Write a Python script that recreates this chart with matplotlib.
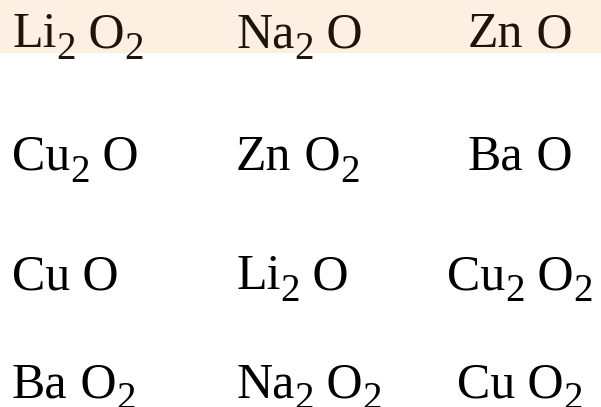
import re

import matplotlib
matplotlib.use('Agg')
import matplotlib.pyplot as plt

# formulas, by column (top to bottom); digits are subscripts
left_col = ['Li2 O2', 'Cu2 O', 'Cu O', 'Ba O2']
mid_col = ['Na2 O', 'Zn O2', 'Li2 O', 'Na2 O2']
right_col = ['Zn O', 'Ba O', 'Cu2 O2', 'Cu O2']

plt.rcParams['font.family'] = ['Liberation Serif', 'DejaVu Serif']

W, H = 601, 407
MAIN_SIZE = 36
SUB_SIZE = 28
SUB_DROP = 12

fig = plt.figure(figsize=(W / 100, H / 100), dpi=100)
ax = fig.add_axes([0, 0, 1, 1])
ax.set_xlim(0, W)
ax.set_ylim(H, 0)
ax.axis('off')
renderer = fig.canvas.get_renderer()


def split_formula(formula):
    ''' Split "Li2 O2" into [("Li", "2"), (" O", "2")]. '''
    pieces = []
    for k, group in enumerate(formula.split(' ')):
        m = re.match(r'([A-Za-z]+)(\d*)', group)
        sym = m.group(1) if k == 0 else ' ' + m.group(1)
        pieces.append((sym, m.group(2)))
    return pieces


def draw_formula(x, y, formula, ha, color):
    ''' Draw a formula with its baseline at y, return the created texts. '''
    texts = []
    cx = x
    for sym, sub in split_formula(formula):
        t = ax.text(cx, y, sym, fontsize=MAIN_SIZE, va='baseline', color=color)
        cx += t.get_window_extent(renderer).width
        texts.append(t)
        if sub:
            s = ax.text(cx, y + SUB_DROP, sub, fontsize=SUB_SIZE,
                        va='baseline', color=color)
            cx += s.get_window_extent(renderer).width
            texts.append(s)
    if ha == 'center':
        shift = (cx - x) / 2
        for t in texts:
            px, py = t.get_position()
            t.set_position((px - shift, py))
    return texts


# highlighted first row
ax.axhspan(0, 52, color='#fdf0e3', zorder=0)

baselines = [47, 170, 289, 397]
cols = [(left_col, 12, 'left'), (mid_col, 236, 'left'), (right_col, 520, 'center')]

for items, x, ha in cols:
    for i, f in enumerate(items):
        color = '#1e140a' if i == 0 else 'black'
        draw_formula(x, baselines[i], f, ha, color)

fig.savefig('out.png', dpi=100)
